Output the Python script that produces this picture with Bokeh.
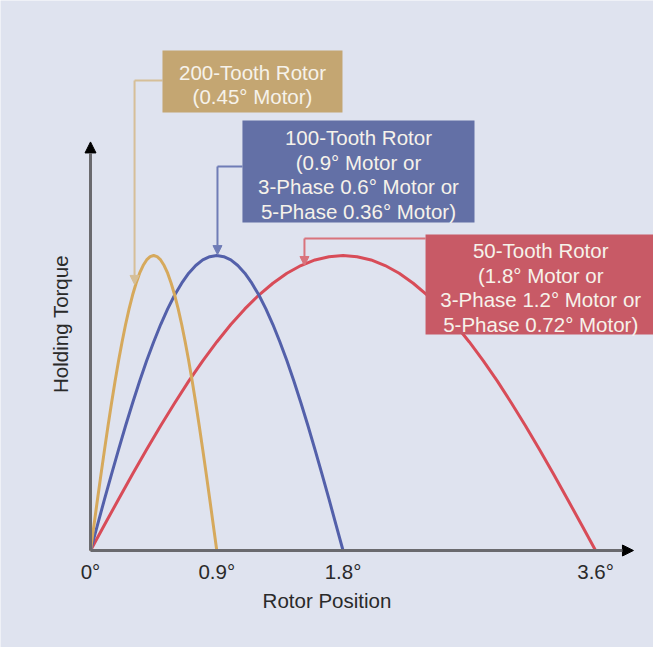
from bokeh.plotting import figure
from bokeh.models import Range1d, LinearAxis, FixedTicker, BoxAnnotation, Label, Arrow, NormalHead
from bokeh.embed import file_html
from bokeh.resources import INLINE

# ---- data ----
gold_x = [0, 0.025, 0.05, 0.075, 0.10, 0.125, 0.15, 0.175, 0.20, 0.225, 0.25, 0.275,
          0.30, 0.325, 0.35, 0.375, 0.40, 0.425, 0.45, 0.475, 0.50, 0.525, 0.55, 0.575,
          0.60, 0.625, 0.65, 0.675, 0.70, 0.725, 0.75, 0.775, 0.80, 0.825, 0.85, 0.875, 0.90]
blue_x = [0, 0.05, 0.10, 0.15, 0.20, 0.25, 0.30, 0.35, 0.40, 0.45, 0.50, 0.55,
          0.60, 0.65, 0.70, 0.75, 0.80, 0.85, 0.90, 0.95, 1.00, 1.05, 1.10, 1.15,
          1.20, 1.25, 1.30, 1.35, 1.40, 1.45, 1.50, 1.55, 1.60, 1.65, 1.70, 1.75, 1.80]
red_x = [0, 0.1, 0.2, 0.3, 0.4, 0.5, 0.6, 0.7, 0.8, 0.9, 1.0, 1.1,
         1.2, 1.3, 1.4, 1.5, 1.6, 1.7, 1.8, 1.9, 2.0, 2.1, 2.2, 2.3,
         2.4, 2.5, 2.6, 2.7, 2.8, 2.9, 3.0, 3.1, 3.2, 3.3, 3.4, 3.5, 3.6]
gold_torque = [0, 0.087, 0.174, 0.259, 0.342, 0.423, 0.50, 0.574, 0.643, 0.707, 0.766, 0.819,
               0.866, 0.906, 0.940, 0.966, 0.985, 0.996, 1.0, 0.996, 0.985, 0.966, 0.940, 0.906,
               0.866, 0.819, 0.766, 0.707, 0.643, 0.574, 0.50, 0.423, 0.342, 0.259, 0.174, 0.087, 0]
blue_torque = [0, 0.087, 0.174, 0.259, 0.342, 0.423, 0.50, 0.574, 0.643, 0.707, 0.766, 0.819,
               0.866, 0.906, 0.940, 0.966, 0.985, 0.996, 1.0, 0.996, 0.985, 0.966, 0.940, 0.906,
               0.866, 0.819, 0.766, 0.707, 0.643, 0.574, 0.50, 0.423, 0.342, 0.259, 0.174, 0.087, 0]
red_torque = [0, 0.087, 0.174, 0.259, 0.342, 0.423, 0.50, 0.574, 0.643, 0.707, 0.766, 0.819,
              0.866, 0.906, 0.940, 0.966, 0.985, 0.996, 1.0, 0.996, 0.985, 0.966, 0.940, 0.906,
              0.866, 0.819, 0.766, 0.707, 0.643, 0.574, 0.50, 0.423, 0.342, 0.259, 0.174, 0.087, 0]
x_ticks = [0, 0.9, 1.8, 3.6]
x_tick_labels = ["0°", "0.9°", "1.8°", "3.6°"]
box_texts = [
    "200-Tooth Rotor\n(0.45° Motor)",
    "100-Tooth Rotor\n(0.9° Motor or\n3-Phase 0.6° Motor or\n5-Phase 0.36° Motor)",
    "50-Tooth Rotor\n(1.8° Motor or\n3-Phase 1.2° Motor or\n5-Phase 0.72° Motor)",
]

# ---- styles ----
BG = "#dfe3ef"
FONT = "Liberation Sans"
FS = "20.5px"
GOLD_LINE, GOLD_BOX, GOLD_CONN = "#d6a95c", "#c4a672", "#d6bf98"
BLUE_LINE, BLUE_BOX, BLUE_CONN = "#5360aa", "#6370a6", "#6f7cb6"
RED_LINE, RED_BOX, RED_CONN = "#d84c58", "#c85a66", "#d9737c"

p = figure(width=653, height=647, output_backend="svg", toolbar_location=None,
           x_range=Range1d(-0.6415, 4.0128), y_range=Range1d(-0.3288, 1.8644),
           x_axis_location=None, y_axis_location=None, min_border=0,
           background_fill_color=BG, border_fill_color=BG, outline_line_color=None)
p.xgrid.visible = False
p.ygrid.visible = False

xaxis = LinearAxis(fixed_location=0, ticker=FixedTicker(ticks=x_ticks),
                   major_label_overrides={t: l for t, l in zip(x_ticks, x_tick_labels)},
                   axis_line_color=None, major_tick_line_color=None, minor_tick_line_color=None,
                   major_label_standoff=3, major_label_text_font=FONT,
                   major_label_text_font_size=FS, major_label_text_color="#2a2a2a",
                   axis_label="Rotor Position", axis_label_standoff=3,
                   axis_label_text_font=FONT, axis_label_text_font_size=FS,
                   axis_label_text_font_style="normal", axis_label_text_color="#2a2a2a")
p.add_layout(xaxis, "below")
yaxis = LinearAxis(fixed_location=0, ticker=FixedTicker(ticks=[]),
                   axis_line_color=None, major_tick_line_color=None, minor_tick_line_color=None,
                   major_label_standoff=0,
                   axis_label="Holding Torque", axis_label_standoff=19,
                   axis_label_text_font=FONT, axis_label_text_font_size=FS,
                   axis_label_text_font_style="normal", axis_label_text_color="#2a2a2a")
p.add_layout(yaxis, "left")

# axis lines with arrow heads
p.add_layout(Arrow(x_start=0, y_start=0, x_end=3.87, y_end=0, line_color="#6a6a6e", line_width=3,
                   end=NormalHead(size=11, fill_color="black", line_color="black")))
p.add_layout(Arrow(x_start=0, y_start=0, x_end=0, y_end=1.385, line_color="#6a6a6e", line_width=3,
                   end=NormalHead(size=11, fill_color="black", line_color="black")))

# curves
p.line(red_x, red_torque, line_color=RED_LINE, line_width=3, line_join="round")
p.line(blue_x, blue_torque, line_color=BLUE_LINE, line_width=3, line_join="round")
p.line(gold_x, gold_torque, line_color=GOLD_LINE, line_width=3, line_join="round")

# annotation boxes (left, right, bottom, top in data units) and connectors
boxes = [
    (0.513, 1.796, 1.485, 1.695, GOLD_BOX, GOLD_CONN, 0.314, 1.593, 0.902),
    (1.083, 2.737, 1.112, 1.458, BLUE_BOX, BLUE_CONN, 0.905, 1.302, 1.003),
    (2.388, 4.03, 0.732, 1.071, RED_BOX, RED_CONN, 1.525, 1.058, 0.966),
]
for (l, r, b, t, fc, cc, cx, cy, tipy), txt in zip(boxes, box_texts):
    p.add_layout(Arrow(x_start=l, y_start=cy, x_end=cx, y_end=cy, line_color=cc,
                       line_width=2, end=None))
    p.add_layout(Arrow(x_start=cx, y_start=cy, x_end=cx, y_end=tipy, line_color=cc, line_width=2,
                       end=NormalHead(size=9, fill_color=cc, line_color=cc)))
    p.add_layout(BoxAnnotation(left=l, right=r, bottom=b, top=t, fill_color=fc, fill_alpha=1,
                               line_color=None))
    p.add_layout(Label(x=(l + r) / 2, y=(b + t) / 2 - 0.01, text=txt, text_align="center",
                       text_baseline="middle", text_font=FONT, text_font_size=FS,
                       text_color="#f6f2ea", text_line_height=1.07))

open("out.html", "w").write(file_html(p, INLINE))
